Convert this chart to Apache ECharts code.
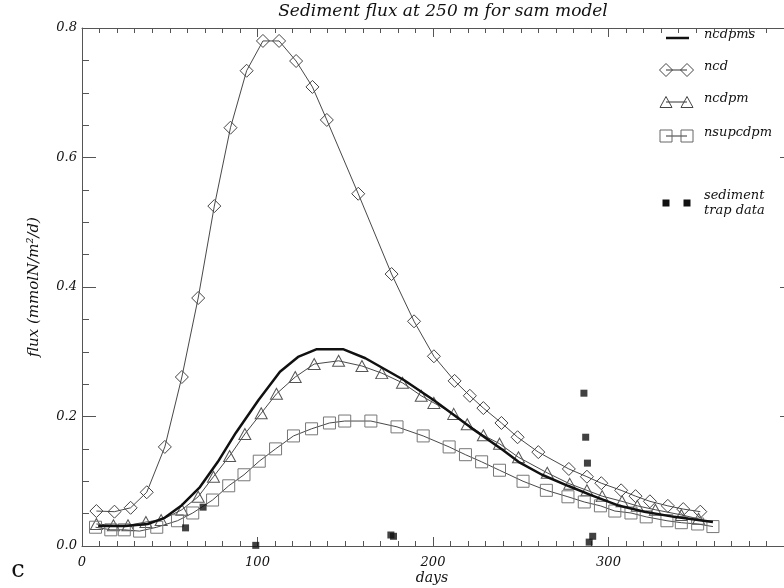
<!DOCTYPE html>
<html>
<head>
<meta charset="utf-8">
<script src="https://cdn.jsdelivr.net/npm/echarts@6/dist/echarts.min.js"></script>
<style>
html,body{margin:0;padding:0;background:#fff;}
#chart{width:784px;height:588px;}
</style>
</head>
<body>
<div id="chart"></div>
<script>
// ---- data ----
const ncdDays = [8.2, 18.5, 27.7, 36.9, 47.2, 56.9, 66.2, 75.4, 84.6, 93.8, 103.1, 112.3, 122.0, 131.3, 139.5, 157.4, 176.4, 189.2, 200.5, 212.3, 221.0, 228.7, 239.0, 248.2, 260.0, 277.4, 287.7, 295.9, 307.2, 315.4, 323.6, 333.8, 342.6, 352.3];
const ncdFlux = [0.054, 0.053, 0.059, 0.083, 0.153, 0.261, 0.383, 0.525, 0.646, 0.734, 0.780, 0.780, 0.749, 0.709, 0.658, 0.544, 0.420, 0.347, 0.293, 0.255, 0.232, 0.213, 0.190, 0.168, 0.145, 0.119, 0.107, 0.097, 0.086, 0.077, 0.069, 0.062, 0.057, 0.053];

const ncdpmDays = [8.2, 17.9, 26.2, 36.4, 45.1, 56.9, 66.2, 74.9, 84.1, 92.8, 102.1, 110.8, 121.5, 132.3, 146.2, 159.5, 170.8, 182.6, 193.3, 200.5, 211.8, 219.5, 228.7, 237.9, 248.7, 265.1, 277.9, 287.7, 296.4, 307.7, 316.4, 326.7, 341.5, 351.3];
const ncdpmFlux = [0.034, 0.032, 0.032, 0.037, 0.040, 0.056, 0.076, 0.107, 0.139, 0.173, 0.205, 0.235, 0.261, 0.281, 0.286, 0.278, 0.267, 0.252, 0.232, 0.221, 0.204, 0.188, 0.171, 0.158, 0.137, 0.113, 0.096, 0.086, 0.077, 0.069, 0.062, 0.056, 0.048, 0.042];

const nsupDays = [7.7, 16.4, 24.1, 32.8, 42.6, 54.4, 63.1, 74.4, 83.6, 92.3, 101.0, 110.3, 120.5, 130.8, 141.0, 149.7, 164.6, 179.5, 194.4, 209.2, 218.5, 227.7, 237.9, 251.3, 264.6, 276.9, 286.2, 295.4, 303.6, 312.8, 321.5, 333.3, 341.5, 350.8, 359.5];
const nsupFlux = [0.029, 0.025, 0.025, 0.023, 0.029, 0.039, 0.051, 0.071, 0.093, 0.110, 0.131, 0.150, 0.170, 0.181, 0.190, 0.193, 0.193, 0.184, 0.170, 0.153, 0.141, 0.130, 0.117, 0.100, 0.086, 0.076, 0.068, 0.062, 0.054, 0.051, 0.045, 0.039, 0.036, 0.034, 0.030];

const ncdpmsDays = [9.2, 24.6, 37.4, 46.7, 56.9, 67.2, 77.4, 87.7, 100.5, 112.8, 123.1, 133.8, 148.7, 161.5, 183.6, 200.5, 221.0, 240.0, 248.7, 262.1, 276.9, 289.7, 305.1, 320.5, 337.4, 359.5];
const ncdpmsFlux = [0.031, 0.031, 0.034, 0.043, 0.063, 0.091, 0.130, 0.175, 0.225, 0.269, 0.292, 0.304, 0.304, 0.290, 0.256, 0.225, 0.184, 0.148, 0.130, 0.110, 0.093, 0.079, 0.063, 0.053, 0.045, 0.037];

const trapDays = [59, 69, 99, 176, 177.5, 286, 287, 288, 289, 291];
const trapFlux = [0.028, 0.060, 0.001, 0.017, 0.015, 0.236, 0.168, 0.128, 0.006, 0.015];

const xTicks = [0, 100, 200, 300];
const yTicks = [0.0, 0.2, 0.4, 0.6, 0.8];

const titleText = 'Sediment flux at 250 m for sam model';
const yTitle = 'flux (mmolN/m\u00b2/d)';
const xTitle = 'days';
const legendNames = ['ncdpms', 'ncd', 'ncdpm', 'nsupcdpm'];

// ---- build ----
const pairs = (xs, ys) => xs.map((x, i) => [x, ys[i]]);
const FONT = '"DejaVu Serif", serif';
const AX = '#555';

const chart = echarts.init(document.getElementById('chart'), null, {renderer: 'canvas'});

const xBase = {
  type: 'value', min: 0, max: 400, interval: 100,
  axisLine: {show: true, onZero: false, lineStyle: {color: AX, width: 1}},
  axisTick: {show: true, inside: true, length: 9, lineStyle: {color: AX}},
  minorTick: {show: true, splitNumber: 10, length: 5, lineStyle: {color: AX}},
  splitLine: {show: false}, minorSplitLine: {show: false}
};
const yBase = {
  type: 'value', min: 0, max: 0.8, interval: 0.2,
  axisLine: {show: true, onZero: false, lineStyle: {color: AX, width: 1}},
  axisTick: {show: true, inside: true, length: 14, lineStyle: {color: AX}},
  minorTick: {show: true, splitNumber: 4, length: 7, lineStyle: {color: AX}},
  splitLine: {show: false}, minorSplitLine: {show: false}
};

const thinSeries = (name, days, flux, symbol, size, border) => ({
  name, type: 'line', data: pairs(days, flux),
  symbol, symbolSize: size, showSymbol: true,
  lineStyle: {color: '#333', width: 0.9},
  itemStyle: {color: 'rgba(255,255,255,0)', borderColor: border, borderWidth: 1},
  emphasis: {disabled: true}, animation: false, z: 3
});

const legendX1 = 666, legendX2 = 687, textX = 704;
const legendY = [38, 70, 102, 136];
const diamond = (cx, cy, r) => [[cx - r, cy], [cx, cy - r], [cx + r, cy], [cx, cy + r]];
const tri = (cx, cy) => [[cx - 6, cy + 5.5], [cx, cy - 5.5], [cx + 6, cy + 5.5]];
const lgStyle = {fill: 'none', stroke: '#444', lineWidth: 1};
const txt = (x, y, text, size, extra) => ({
  type: 'text', x, y,
  style: Object.assign({text, font: 'italic ' + size + 'px ' + FONT, fill: '#111', verticalAlign: 'middle'}, extra || {})
});

const graphics = [
  txt(443, 12, titleText, 17, {align: 'center'}),
  txt(432, 578, xTitle, 14, {align: 'center'}),
  {type: 'text', x: 18, y: 571, style: {text: 'c', font: '24px ' + FONT, fill: '#111', align: 'center', verticalAlign: 'middle'}},
  // legend: ncdpms
  {type: 'line', shape: {x1: legendX1, y1: legendY[0], x2: legendX2 + 2, y2: legendY[0]}, style: {stroke: '#111', lineWidth: 2.5}},
  txt(textX, legendY[0] - 3, legendNames[0], 13),
  // ncd
  {type: 'line', shape: {x1: legendX1, y1: legendY[1], x2: legendX2, y2: legendY[1]}, style: {stroke: '#333', lineWidth: 1}},
  {type: 'polygon', shape: {points: diamond(legendX1, legendY[1], 6.5)}, style: lgStyle},
  {type: 'polygon', shape: {points: diamond(legendX2, legendY[1], 6.5)}, style: lgStyle},
  txt(textX, legendY[1] - 3, legendNames[1], 13),
  // ncdpm
  {type: 'line', shape: {x1: legendX1, y1: legendY[2], x2: legendX2, y2: legendY[2]}, style: {stroke: '#333', lineWidth: 1}},
  {type: 'polygon', shape: {points: tri(legendX1, legendY[2])}, style: lgStyle},
  {type: 'polygon', shape: {points: tri(legendX2, legendY[2])}, style: lgStyle},
  txt(textX, legendY[2] - 3, legendNames[2], 13),
  // nsupcdpm
  {type: 'line', shape: {x1: legendX1, y1: legendY[3], x2: legendX2, y2: legendY[3]}, style: {stroke: '#333', lineWidth: 1}},
  {type: 'rect', shape: {x: legendX1 - 6, y: legendY[3] - 6, width: 12, height: 12}, style: {fill: 'none', stroke: '#666', lineWidth: 1}},
  {type: 'rect', shape: {x: legendX2 - 6, y: legendY[3] - 6, width: 12, height: 12}, style: {fill: 'none', stroke: '#666', lineWidth: 1}},
  txt(textX, legendY[3] - 3, legendNames[3], 13),
  // sediment trap data
  {type: 'rect', shape: {x: legendX1 - 3.5, y: 199.5, width: 7, height: 7}, style: {fill: '#111'}},
  {type: 'rect', shape: {x: legendX2 - 3.5, y: 199.5, width: 7, height: 7}, style: {fill: '#111'}},
  txt(textX, 196, 'sediment', 13),
  txt(textX, 211, 'trap data', 13)
];

const option = {
  backgroundColor: '#fff',
  animation: false,
  grid: {left: 82, right: -78, top: 28, bottom: 42, containLabel: false},
  xAxis: [
    Object.assign({}, xBase, {
      position: 'bottom',
      axisLabel: {show: true, margin: 10, fontFamily: FONT, fontStyle: 'italic', fontSize: 13, color: '#111',
        formatter: v => xTicks.includes(v) ? String(v) : '', showMaxLabel: false}
    }),
    Object.assign({}, xBase, {position: 'top', axisLabel: {show: false}})
  ],
  yAxis: [
    Object.assign({}, yBase, {
      position: 'left',
      name: yTitle, nameLocation: 'middle', nameGap: 40, nameRotate: 90,
      nameTextStyle: {fontFamily: FONT, fontStyle: 'italic', fontSize: 15, color: '#111'},
      axisLabel: {show: true, margin: 5, fontFamily: FONT, fontStyle: 'italic', fontSize: 13, color: '#111',
        formatter: v => yTicks.some(t => Math.abs(t - v) < 1e-9) ? v.toFixed(1) : ''}
    }),
    Object.assign({}, yBase, {
      position: 'right', offset: 10,
      axisLabel: {show: false}
    })
  ],
  graphic: graphics,
  series: [
    {
      name: 'ncdpms', type: 'line', data: pairs(ncdpmsDays, ncdpmsFlux),
      showSymbol: false, symbol: 'none',
      lineStyle: {color: '#111', width: 2.5}, emphasis: {disabled: true}, z: 4
    },
    thinSeries('ncd', ncdDays, ncdFlux, 'diamond', [13, 13], '#444'),
    thinSeries('ncdpm', ncdpmDays, ncdpmFlux, 'triangle', [12, 11], '#555'),
    thinSeries('nsupcdpm', nsupDays, nsupFlux, 'rect', [12, 12], '#777'),
    {
      name: 'sediment trap data', type: 'scatter', data: pairs(trapDays, trapFlux),
      symbol: 'rect', symbolSize: 7, itemStyle: {color: '#111'}, emphasis: {disabled: true}, z: 5
    }
  ]
};
chart.setOption(option);
</script>
</body>
</html>
